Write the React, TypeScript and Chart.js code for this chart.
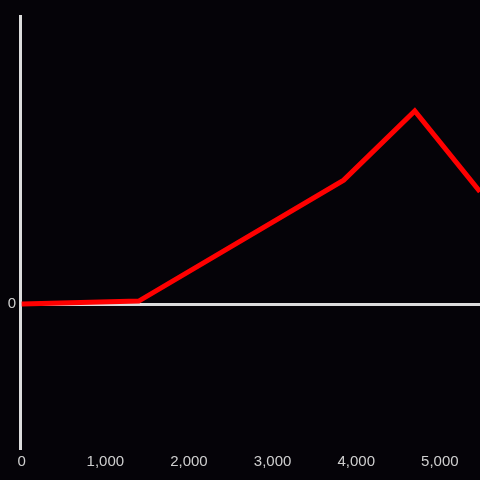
import React, { useEffect, useRef } from "react";
import { Chart, registerables } from "chart.js";

Chart.register(...registerables);

const xValues = [0, 1400, 3850, 4700, 5480];
const yValues = [0, 1, 43, 67, 39];
const xTickValues = [0, 1000, 2000, 3000, 4000, 5000];
const yTickValues = [0];

const BG = "#050308";
const AXIS = "#dcdcdc";
const TEXT = "#cfcfcf";

const bgPlugin = {
  id: "bg",
  beforeDraw(chart: any) {
    const { ctx, width, height } = chart;
    ctx.save();
    ctx.fillStyle = BG;
    ctx.fillRect(0, 0, width, height);
    ctx.restore();
  },
};

export default function App() {
  const ref = useRef<HTMLCanvasElement | null>(null);
  useEffect(() => {
    document.body.style.margin = "0";
    document.body.style.background = BG;
    const chart = new Chart(ref.current!, {
      type: "line",
      data: {
        datasets: [
          {
            data: xValues.map((x, i) => ({ x, y: yValues[i] })),
            borderColor: "#ff0000",
            borderWidth: 5,
            pointRadius: 0,
            tension: 0,
            borderJoinStyle: "miter",
          },
        ],
      },
      options: {
        animation: false,
        responsive: false,
        maintainAspectRatio: false,
        layout: { padding: { top: 16, right: 0, left: 0, bottom: 0 } },
        plugins: { legend: { display: false }, tooltip: { enabled: false } },
        scales: {
          x: {
            type: "linear",
            min: -20,
            max: 5480,
            afterBuildTicks: (s: any) => {
              s.ticks = xTickValues.map((v) => ({ value: v }));
            },
            afterFit: (s: any) => {
              s.height = 32;
            },
            border: { display: false },
            grid: { display: false, drawTicks: false },
            ticks: {
              color: TEXT,
              padding: 5,
              maxRotation: 0,
              autoSkip: false,
              font: { family: "'Liberation Sans', Arial, sans-serif", size: 15 },
              callback: (v: any) => Number(v).toLocaleString("en-US"),
            },
          },
          y: {
            type: "linear",
            min: -50,
            max: 100,
            afterBuildTicks: (s: any) => {
              s.ticks = yTickValues.map((v) => ({ value: v }));
            },
            afterFit: (s: any) => {
              s.width = 20;
            },
            border: { display: true, color: AXIS, width: 3 },
            grid: {
              drawTicks: false,
              lineWidth: 3,
              color: (c: any) => (c.tick && c.tick.value === 0 ? AXIS : "rgba(0,0,0,0)"),
            },
            ticks: {
              color: TEXT,
              padding: 4,
              font: { family: "'Liberation Sans', Arial, sans-serif", size: 15 },
            },
          },
        },
      },
      plugins: [bgPlugin],
    } as any);
    return () => chart.destroy();
  }, []);
  return (
    <div style={{ position: "fixed", left: 0, top: 0, width: 480, height: 480, background: BG }}>
      <canvas ref={ref} width={480} height={480} style={{ display: "block", width: 480, height: 480 }} />
    </div>
  );
}
